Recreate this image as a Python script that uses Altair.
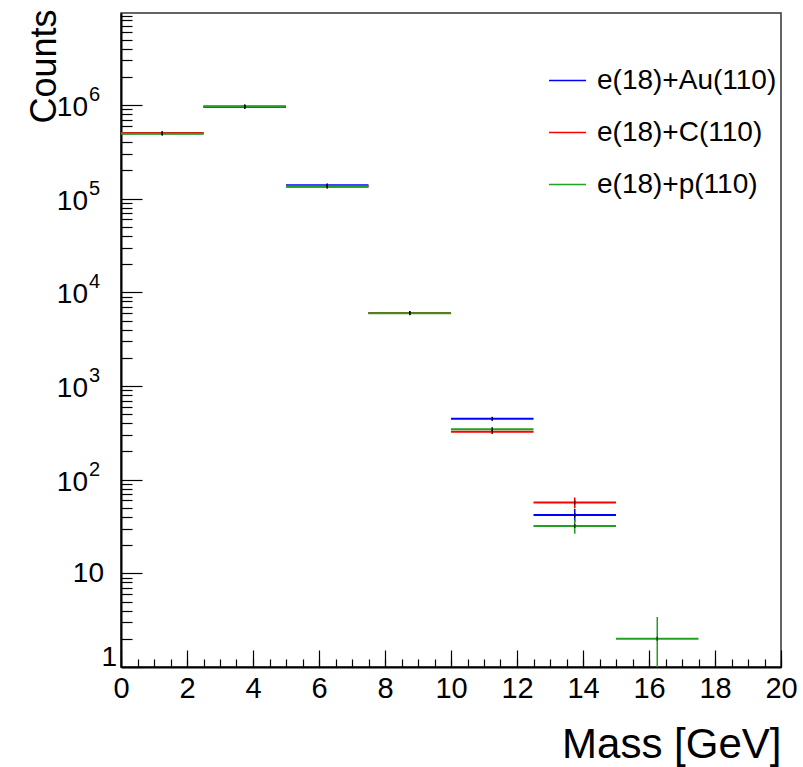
import altair as alt
import pandas as pd

# ---------------- data ----------------
series = ["e(18)+Au(110)", "e(18)+C(110)", "e(18)+p(110)"]
colors = ["#0000ff", "#ff0000", "#22a022"]

bin_lo = [0.0, 2.5, 5.0, 7.5, 10.0, 12.5, 15.0]
bin_hi = [2.5, 5.0, 7.5, 10.0, 12.5, 15.0, 17.5]

counts_au = [4.98e5, 9.6e5, 1.39e5, 6000, 447, 42, None]
counts_c = [5.02e5, 9.55e5, 1.34e5, 6020, 325, 57, None]
counts_p = [4.92e5, 9.7e5, 1.36e5, 5980, 345, 32, 2]

err_au = [700, 980, 370, 77, 21, 6.5, None]
err_c = [700, 980, 366, 77, 18, 7.5, None]
err_p = [700, 980, 368, 77, 18.6, 5.6, 1.41]

x_major = [0, 2, 4, 6, 8, 10, 12, 14, 16, 18, 20]
x_minor = [i * 0.5 for i in range(41)]
y_major = [1, 10, 1e2, 1e3, 1e4, 1e5, 1e6]
y_minor = [m * 10 ** k for k in range(7) for m in range(2, 10)]
y_base = ["1", "10", "10", "10", "10", "10", "10"]
y_exp = ["", "", "2", "3", "4", "5", "6"]

# ---------------- build table ----------------
rows = []
for name, cnts, errs in zip(series, [counts_au, counts_c, counts_p], [err_au, err_c, err_p]):
    for lo, hi, n, e in zip(bin_lo, bin_hi, cnts, errs):
        if n is None:
            continue
        rows.append(dict(s=name, lo=lo, hi=hi, c=(lo + hi) / 2, n=n, elo=n - e, ehi=n + e))
df = pd.DataFrame(rows)

ylabels = pd.DataFrame({"v": y_major, "base": y_base, "exp": y_exp})

FONT = "Liberation Sans"
W, H = 660, 654

xscale = alt.Scale(domain=[0, 20], nice=False, zero=False)
yscale = alt.Scale(type="log", domain=[1, 9.6e6], nice=False)
cscale = alt.Scale(domain=series, range=colors)

legend = alt.Legend(
    orient="none", legendX=427, legendY=48, title=None,
    labelFont=FONT, labelFontSize=28, labelColor="black", labelLimit=0,
    symbolType="stroke", symbolSize=1369, symbolStrokeWidth=1.5,
    rowPadding=18, labelOffset=10, padding=0,
)

bars = alt.Chart(df).mark_rule(strokeWidth=2).encode(
    x=alt.X("lo:Q", scale=xscale,
            axis=alt.Axis(orient="bottom", ticks=False, domain=False, grid=False,
                          values=x_major, labelFont=FONT, labelFontSize=29,
                          labelColor="black", labelPadding=7, labelFlush=False,
                          title="Mass [GeV]", titleFont=FONT, titleFontSize=42,
                          titleFontWeight="normal", titleColor="black",
                          titleAnchor="end", titleAlign="right",
                          titleBaseline="alphabetic", titleX=W, titleY=90)),
    x2="hi:Q",
    y=alt.Y("n:Q", scale=yscale,
            axis=alt.Axis(orient="left", ticks=False, labels=False, domain=False,
                          grid=False, title="Counts", titleFont=FONT,
                          titleFontSize=36, titleFontWeight="normal",
                          titleColor="black", titleAngle=-90, titleAlign="right",
                          titleBaseline="alphabetic", titleX=-66, titleY=-4)),
    color=alt.Color("s:N", scale=cscale, legend=legend),
)

errbars = alt.Chart(df).mark_rule(strokeWidth=1.5, clip=True).encode(
    x=alt.X("c:Q", scale=xscale, axis=None),
    y=alt.Y("elo:Q", scale=yscale, axis=None),
    y2="ehi:Q",
    color=alt.Color("s:N", scale=cscale, legend=None),
)

markers = alt.Chart(df).mark_tick(orient="vertical", size=4, thickness=1.5, color="black").encode(
    x=alt.X("c:Q", scale=xscale, axis=None),
    y=alt.Y("n:Q", scale=yscale, axis=None),
)

def x_tick_layer(vals, size, domain):
    return alt.Chart(df).mark_point(opacity=0).encode(
        x=alt.X("c:Q", scale=xscale,
                axis=alt.Axis(orient="top", offset=-H, values=vals, tickSize=size,
                              tickColor="black", tickWidth=1.2, labels=False,
                              domain=domain, domainColor="black", domainWidth=2,
                              grid=False, title=None))
    )

def y_tick_layer(vals, size, domain):
    return alt.Chart(df).mark_point(opacity=0).encode(
        y=alt.Y("n:Q", scale=yscale,
                axis=alt.Axis(orient="right", offset=-W, values=vals, tickSize=size,
                              tickColor="black", tickWidth=1.2, labels=False,
                              domain=domain, domainColor="black", domainWidth=2,
                              grid=False, title=None))
    )

ytext = alt.Chart(ylabels)
lab_one = ytext.transform_filter("datum.v == 1").mark_text(
    font=FONT, fontSize=28, align="right", baseline="middle", dx=-4, dy=-9, color="black"
).encode(x=alt.value(0), y=alt.Y("v:Q", scale=yscale, axis=None), text="base:N")
lab_ten = ytext.transform_filter("datum.v == 10").mark_text(
    font=FONT, fontSize=28, align="right", baseline="middle", dx=-17, dy=1, color="black"
).encode(x=alt.value(0), y=alt.Y("v:Q", scale=yscale, axis=None), text="base:N")
lab_pow = ytext.transform_filter("datum.v >= 100").mark_text(
    font=FONT, fontSize=28, align="right", baseline="middle", dx=-33, dy=3, color="black"
).encode(x=alt.value(0), y=alt.Y("v:Q", scale=yscale, axis=None), text="base:N")
lab_exp = ytext.transform_filter("datum.v >= 100").mark_text(
    font=FONT, fontSize=20, align="left", baseline="middle", dx=-32, dy=-10, color="black"
).encode(x=alt.value(0), y=alt.Y("v:Q", scale=yscale, axis=None), text="exp:N")

chart = alt.layer(
    x_tick_layer(x_minor, 8, True),
    x_tick_layer(x_major, 17, False),
    y_tick_layer(y_minor, 11, True),
    y_tick_layer(y_major, 21, False),
    bars, errbars, markers,
    lab_one, lab_ten, lab_pow, lab_exp,
).resolve_axis(x="independent", y="independent").properties(
    width=W, height=H,
    autosize=alt.AutoSizeParams(type="none"),
    padding={"left": 121, "top": 13, "right": 22, "bottom": 100},
    background="white",
).configure_view(stroke="#333333", strokeWidth=1.5)

chart.save("out.html", embed_options={"renderer": "svg", "actions": False})
